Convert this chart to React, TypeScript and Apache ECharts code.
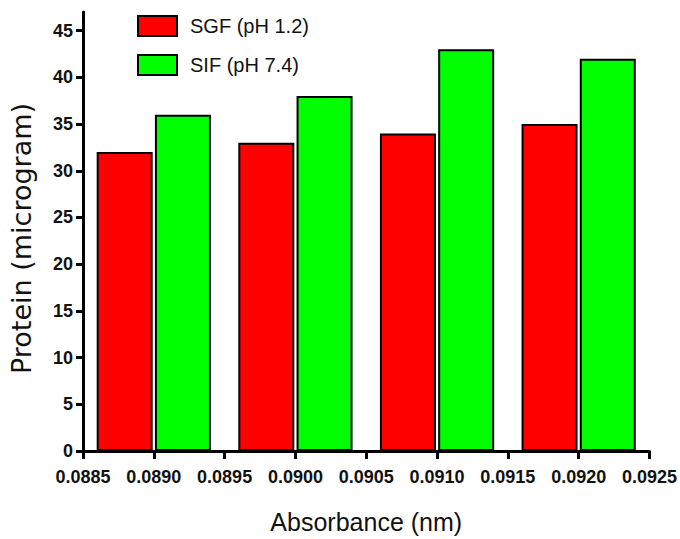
import React, { useEffect, useRef } from "react";
import * as echarts from "echarts";

const absorbance = [0.089, 0.09, 0.091, 0.092];
const sgfValues = [32, 33, 34, 35];
const sifValues = [36, 38, 43, 42];
const yTicks = [0, 5, 10, 15, 20, 25, 30, 35, 40, 45];
const seriesNames = ["SGF (pH 1.2)", "SIF (pH 7.4)"];

const textFont = "'Liberation Sans', Arial, sans-serif";

export default function App() {
  const ref = useRef<HTMLDivElement>(null);
  useEffect(() => {
    if (!ref.current) return;
    const chart = echarts.init(ref.current, null, { renderer: "svg" });
    chart.setOption({
      animation: false,
      backgroundColor: "#ffffff",
      grid: { left: 81, right: 28, top: 12, bottom: 83 },
      legend: {
        left: 137,
        top: 15,
        padding: 0,
        orient: "vertical",
        icon: "rect",
        itemWidth: 39,
        itemHeight: 20,
        itemGap: 17,
        textStyle: { fontFamily: textFont, fontSize: 20, color: "#111", padding: [0, 0, 0, 8] },
        data: seriesNames,
      },
      xAxis: {
        type: "value",
        min: 0.0885,
        max: 0.0925,
        interval: 0.0005,
        name: "Absorbance (nm)",
        nameLocation: "middle",
        nameGap: 58,
        nameTextStyle: { fontFamily: textFont, fontSize: 25, color: "#111" },
        axisLine: { show: true, onZero: false, lineStyle: { color: "#000", width: 3 } },
        axisTick: { show: true, inside: false, length: 8, lineStyle: { color: "#000", width: 3 } },
        axisLabel: {
          show: true,
          margin: 17,
          fontFamily: textFont,
          fontWeight: "bold",
          fontSize: 18,
          color: "#111",
          formatter: (v: number) => v.toFixed(4),
        },
        splitLine: { show: false },
      },
      yAxis: {
        type: "value",
        min: 0,
        max: 47,
        name: "Protein (microgram)",
        nameLocation: "middle",
        nameGap: 48,
        nameTextStyle: {
          fontFamily: "'DejaVu Sans', sans-serif",
          fontSize: 27,
          color: "#111",
          padding: [0, 14, 0, 0],
        },
        axisLine: { show: true, lineStyle: { color: "#000", width: 3 } },
        axisTick: { show: true, length: 7, customValues: yTicks, lineStyle: { color: "#000", width: 3 } },
        axisLabel: {
          show: true,
          margin: 10,
          customValues: yTicks,
          fontFamily: textFont,
          fontWeight: "bold",
          fontSize: 18,
          color: "#111",
        },
        splitLine: { show: false },
      },
      series: [
        {
          name: seriesNames[0],
          type: "bar",
          barWidth: 56,
          barGap: "4%",
          itemStyle: { color: "#ff0000", borderColor: "#000", borderWidth: 2 },
          data: absorbance.map((x, i) => [x, sgfValues[i]]),
        },
        {
          name: seriesNames[1],
          type: "bar",
          barWidth: 56,
          barGap: "4%",
          itemStyle: { color: "#00ff00", borderColor: "#000", borderWidth: 2 },
          data: absorbance.map((x, i) => [x, sifValues[i]]),
        },
      ],
    });
    return () => chart.dispose();
  }, []);
  return (
    <div
      ref={ref}
      style={{ position: "absolute", left: 0, top: 0, width: 680, height: 539 }}
    />
  );
}
